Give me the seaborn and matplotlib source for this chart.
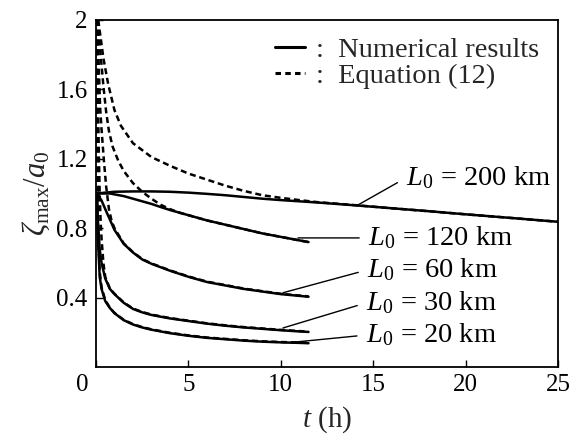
import matplotlib
matplotlib.use("Agg")
import matplotlib.pyplot as plt
import matplotlib.transforms as mtransforms
from matplotlib.lines import Line2D
import seaborn as sns

# ---------------- data ----------------
t_num = [0.05, 0.1, 0.2, 0.3, 0.5, 0.75, 1, 1.5, 2, 2.5, 3, 3.5, 4, 5, 6, 7, 8, 9, 10, 11, 11.5]
num_L20 = [1.0, 0.75, 0.52, 0.45, 0.38, 0.34, 0.31, 0.27, 0.245, 0.228, 0.215, 0.205, 0.195, 0.18, 0.168, 0.16, 0.152, 0.146, 0.142, 0.139, 0.137]
num_L30 = [1.0, 0.85, 0.68, 0.60, 0.51, 0.45, 0.42, 0.37, 0.335, 0.315, 0.30, 0.29, 0.28, 0.265, 0.25, 0.238, 0.228, 0.22, 0.212, 0.205, 0.202]
num_L60 = [1.0, 0.995, 0.975, 0.96, 0.91, 0.85, 0.79, 0.71, 0.66, 0.62, 0.595, 0.575, 0.555, 0.52, 0.49, 0.47, 0.45, 0.435, 0.42, 0.41, 0.405]
num_L120 = [1.0, 1.0, 1.0, 1.0, 1.0, 1.0, 0.995, 0.985, 0.97, 0.955, 0.94, 0.922, 0.905, 0.875, 0.845, 0.82, 0.795, 0.77, 0.75, 0.73, 0.72]

t_num200 = [0.05, 0.5, 1, 2, 3, 4, 5, 6, 7, 8, 9, 10, 11, 12, 14, 16, 18, 20, 22, 25]
num_L200 = [1.0, 1.005, 1.01, 1.012, 1.012, 1.01, 1.005, 0.998, 0.99, 0.98, 0.97, 0.962, 0.955, 0.948, 0.932, 0.915, 0.898, 0.88, 0.863, 0.837]

t_eq200 = [0.12, 0.25, 0.4, 0.66, 1.0, 1.35, 2, 3, 4, 5, 6, 7, 8, 9, 10, 11, 12, 14, 16, 18, 20, 22, 25]
eq_L200 = [2.0, 1.9, 1.78, 1.63, 1.48, 1.39, 1.29, 1.21, 1.16, 1.115, 1.08, 1.045, 1.015, 0.99, 0.975, 0.962, 0.95, 0.933, 0.915, 0.898, 0.88, 0.863, 0.837]

t_eq120 = [0.1, 0.2, 0.3, 0.4, 0.55, 0.7, 0.9, 1.2, 1.5, 2, 2.5, 3, 3.5, 4, 4.5, 5, 6, 7, 8, 9, 10, 11, 11.5]
eq_L120 = [2.0, 1.86, 1.74, 1.62, 1.47, 1.36, 1.27, 1.19, 1.13, 1.06, 1.01, 0.97, 0.935, 0.91, 0.89, 0.875, 0.845, 0.82, 0.795, 0.77, 0.75, 0.73, 0.72]

t_eq60 = [0.08, 0.12, 0.16, 0.22, 0.3, 0.42, 0.55, 0.7, 0.85, 1.0, 1.5, 2, 2.5, 3, 3.5, 4, 5, 6, 7, 8, 9, 10, 11, 11.5]
eq_L60 = [2.0, 1.85, 1.7, 1.5, 1.37, 1.2, 1.04, 0.91, 0.84, 0.80, 0.712, 0.662, 0.622, 0.597, 0.577, 0.557, 0.522, 0.492, 0.472, 0.452, 0.437, 0.422, 0.412, 0.407]

t_eq30 = [0.05, 0.08, 0.12, 0.16, 0.2, 0.25, 0.3, 0.4, 0.5, 0.75, 1, 1.5, 2, 2.5, 3, 3.5, 4, 5, 6, 7, 8, 9, 10, 11, 11.5]
eq_L30 = [2.0, 1.75, 1.45, 1.2, 1.0, 0.84, 0.74, 0.6, 0.52, 0.452, 0.422, 0.372, 0.337, 0.317, 0.302, 0.292, 0.282, 0.267, 0.252, 0.24, 0.23, 0.222, 0.214, 0.207, 0.204]

t_eq20 = [0.03, 0.05, 0.07, 0.1, 0.15, 0.2, 0.3, 0.5, 0.75, 1, 1.5, 2, 2.5, 3, 3.5, 4, 5, 6, 7, 8, 9, 10, 11, 11.5]
eq_L20 = [2.0, 1.6, 1.25, 0.95, 0.68, 0.55, 0.46, 0.385, 0.342, 0.312, 0.272, 0.247, 0.23, 0.217, 0.207, 0.197, 0.182, 0.17, 0.162, 0.154, 0.148, 0.144, 0.141, 0.139]

labels = ["$L$$_0$ = 200 km", "$L$$_0$ = 120 km", "$L$$_0$ = 60 km", "$L$$_0$ = 30 km", "$L$$_0$ = 20 km"]
label_points = [(14.18, 0.934), (10.93, 0.744), (10.12, 0.428), (10.12, 0.225), (10.5, 0.141)]
label_text_pos = [(16.75, 1.089), (14.72, 0.744), (14.66, 0.559), (14.6, 0.369), (14.6, 0.184)]

x_ticks = [0, 5, 10, 15, 20, 25]
y_ticks = [0.4, 0.8, 1.2, 1.6, 2.0]
y_ticklabels = ["0.4", "0.8", "1.2", "1.6", "2"]

# ---------------- style ----------------
sns.set_theme(style="ticks")
plt.rcParams["font.family"] = ["Liberation Serif", "DejaVu Serif"]
plt.rcParams["mathtext.fontset"] = "custom"
plt.rcParams["mathtext.rm"] = "Liberation Serif"
plt.rcParams["mathtext.it"] = "Liberation Serif:italic"
plt.rcParams["mathtext.bf"] = "Liberation Serif:bold"

fig = plt.figure(figsize=(5.71, 4.42), dpi=100)
ax = fig.add_axes([96 / 571, 1 - 367 / 442, (558 - 96) / 571, (367 - 20) / 442])

LW = 1.8
dash = (0, (2.4, 1.5))

for t, v in [(t_eq200, eq_L200), (t_eq120, eq_L120), (t_eq60, eq_L60), (t_eq30, eq_L30), (t_eq20, eq_L20)]:
    sns.lineplot(x=t, y=v, ax=ax, color="black", lw=LW, linestyle=dash, estimator=None, sort=False)

for t, v in [(t_num200, num_L200), (t_num, num_L120), (t_num, num_L60), (t_num, num_L30), (t_num, num_L20)]:
    sns.lineplot(x=t, y=v, ax=ax, color="black", lw=LW, estimator=None, sort=False)

for lab, p, tp in zip(labels, label_points, label_text_pos):
    ax.annotate(lab, xy=p, xytext=tp, textcoords="data", ha="left", va="center",
                fontsize=20.5, color="black",
                arrowprops=dict(arrowstyle="-", color="black", lw=1.0,
                                shrinkA=4, shrinkB=0, relpos=(0, 0.5)))

ax.set_xlim(0, 25)
ax.set_ylim(0, 2)
ax.set_xticks(x_ticks)
ax.set_xticklabels([str(x) for x in x_ticks])
ax.set_yticks(y_ticks)
ax.set_yticklabels(y_ticklabels)
ax.tick_params(direction="in", length=5, width=1, labelsize=18, colors="black")
ax.tick_params(axis="y", pad=6)
ax.tick_params(axis="x", pad=5)
# shared origin label "0" placed at the corner as in the reference
lab0 = ax.get_xticklabels()[0]
lab0.set_transform(lab0.get_transform() + mtransforms.ScaledTranslation(-14 / 100, 0, fig.dpi_scale_trans))

for s in ax.spines.values():
    s.set_linewidth(1.3)
    s.set_color("black")

ax.set_xlabel("$t$ (h)", fontsize=21, labelpad=6)
ax.set_ylabel(r"$\zeta_{\mathrm{max}}/a_0$", fontsize=22, labelpad=3)

handles = [Line2D([], [], color="black", lw=2.2),
           Line2D([], [], color="black", lw=2.2, linestyle=(0, (1.8, 1.4)))]
leg = ax.legend(handles, [":  Numerical results", ":  Equation (12)"], loc="upper right",
                bbox_to_anchor=(0.99, 0.993), frameon=False, fontsize=20.5,
                handlelength=1.05, handletextpad=0.4, labelspacing=0.0, borderpad=0.0)

fig.savefig("out.png", dpi=100)
